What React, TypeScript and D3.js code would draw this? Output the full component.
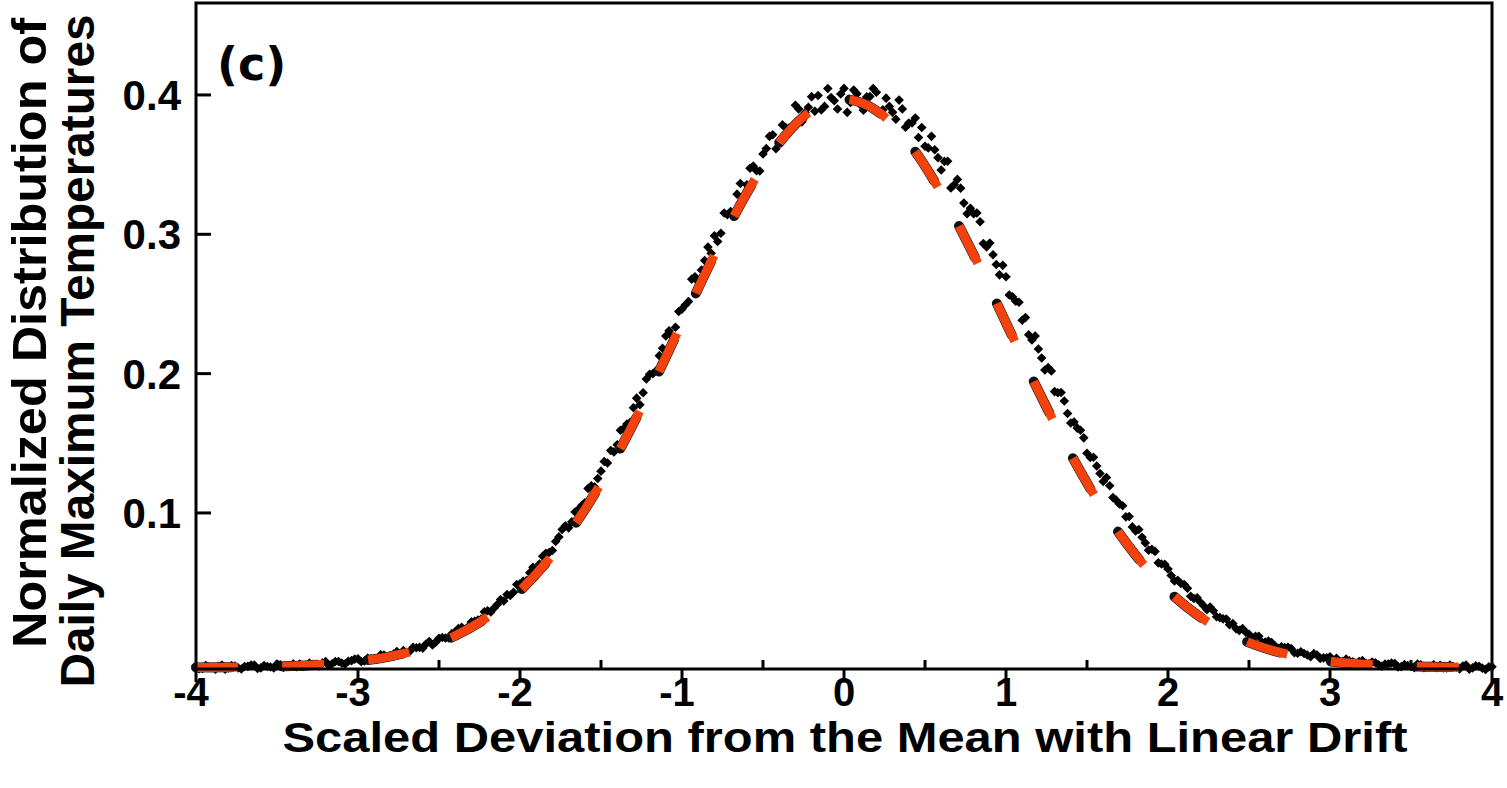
import React from 'react';
import * as d3 from 'd3';

const xTicks = [-4, -3, -2, -1, 0, 1, 2, 3, 4];
const xMinorTicks = [-3.5, -2.5, -1.5, -0.5, 0.5, 1.5, 2.5, 3.5];
const yTicks = [0.1, 0.2, 0.3, 0.4];
const yTickLabels = ['0.1', '0.2', '0.3', '0.4'];
const panelLabel = '(c)';
const xTitle = 'Scaled Deviation from the Mean with Linear Drift';
const yTitle1 = 'Normalized Distribution of';
const yTitle2 = 'Daily Maximum Temperatures';

// Gaussian fit (orange dashed)
const fitX = [-4, -3.8, -3.6, -3.4, -3.2, -3, -2.8, -2.6, -2.4, -2.2, -2, -1.8, -1.6, -1.4, -1.2, -1, -0.8, -0.6, -0.4, -0.2, 0,
  0.2, 0.4, 0.6, 0.8, 1, 1.2, 1.4, 1.6, 1.8, 2, 2.2, 2.4, 2.6, 2.8, 3, 3.2, 3.4, 3.6, 3.8, 4];
const fitY = [-0.0109, -0.0107, -0.0104, -0.0098, -0.0085, -0.0065, -0.0029, 0.0029, 0.0119, 0.0253, 0.0442, 0.0698, 0.1024, 0.1421, 0.1876, 0.2365, 0.2853, 0.3297, 0.3656, 0.3888, 0.3969,
  0.3888, 0.3656, 0.3297, 0.2853, 0.2365, 0.1876, 0.1421, 0.1024, 0.0698, 0.0442, 0.0253, 0.0119, 0.0029, -0.0029, -0.0065, -0.0085, -0.0098, -0.0104, -0.0107, -0.0109];

// Observed distribution (black diamonds), first set of bins
const dataX = [
  -4.00, -3.96, -3.92, -3.88, -3.84, -3.80, -3.76, -3.72, -3.68, -3.64, -3.60, -3.56, -3.52, -3.48, -3.44, -3.40, -3.36, -3.32, -3.28, -3.24,
  -3.20, -3.16, -3.12, -3.08, -3.04, -3.00, -2.96, -2.92, -2.88, -2.84, -2.80, -2.76, -2.72, -2.68, -2.64, -2.60, -2.56, -2.52, -2.48, -2.44,
  -2.40, -2.36, -2.32, -2.28, -2.24, -2.20, -2.16, -2.12, -2.08, -2.04, -2.00, -1.96, -1.92, -1.88, -1.84, -1.80, -1.76, -1.72, -1.68, -1.64,
  -1.60, -1.56, -1.52, -1.48, -1.44, -1.40, -1.36, -1.32, -1.28, -1.24, -1.20, -1.16, -1.12, -1.08, -1.04, -1.00, -0.96, -0.92, -0.88, -0.84,
  -0.80, -0.76, -0.72, -0.68, -0.64, -0.60, -0.56, -0.52, -0.48, -0.44, -0.40, -0.36, -0.32, -0.28, -0.24, -0.20, -0.16, -0.12, -0.08, -0.04,
  0.00, 0.04, 0.08, 0.12, 0.16, 0.20, 0.24, 0.28, 0.32, 0.36, 0.40, 0.44, 0.48, 0.52, 0.56, 0.60, 0.64, 0.68, 0.72, 0.76,
  0.80, 0.84, 0.88, 0.92, 0.96, 1.00, 1.04, 1.08, 1.12, 1.16, 1.20, 1.24, 1.28, 1.32, 1.36, 1.40, 1.44, 1.48, 1.52, 1.56,
  1.60, 1.64, 1.68, 1.72, 1.76, 1.80, 1.84, 1.88, 1.92, 1.96, 2.00, 2.04, 2.08, 2.12, 2.16, 2.20, 2.24, 2.28, 2.32, 2.36,
  2.40, 2.44, 2.48, 2.52, 2.56, 2.60, 2.64, 2.68, 2.72, 2.76, 2.80, 2.84, 2.88, 2.92, 2.96, 3.00, 3.04, 3.08, 3.12, 3.16,
  3.20, 3.24, 3.28, 3.32, 3.36, 3.40, 3.44, 3.48, 3.52, 3.56, 3.60, 3.64, 3.68, 3.72, 3.76, 3.80, 3.84, 3.88, 3.92, 3.96, 4.00];
const dataY = [
  -0.0097, -0.0116, -0.0105, -0.0122, -0.0092, -0.0112, -0.0099, -0.0120, -0.0101, -0.0092, -0.0112, -0.0102, -0.0113, -0.0090, -0.0101, -0.0083, -0.0084, -0.0100, -0.0086, -0.0099,
  -0.0067, -0.0083, -0.0066, -0.0085, -0.0060, -0.0047, -0.0062, -0.0046, -0.0049, -0.0020, -0.0023, 0.0005, 0.0013, 0.0007, 0.0032, 0.0030, 0.0077, 0.0073, 0.0106, 0.0102,
  0.0147, 0.0180, 0.0183, 0.0222, 0.0238, 0.0298, 0.0318, 0.0378, 0.0414, 0.0431, 0.0492, 0.0514, 0.0610, 0.0634, 0.0711, 0.0730, 0.0828, 0.0908, 0.0936, 0.1024,
  0.1073, 0.1195, 0.1247, 0.1369, 0.1448, 0.1489, 0.1605, 0.1650, 0.1824, 0.1863, 0.1996, 0.2021, 0.2182, 0.2307, 0.2333, 0.2463, 0.2517, 0.2695, 0.2744, 0.2908,
  0.2990, 0.3007, 0.3141, 0.3155, 0.3365, 0.3356, 0.3489, 0.3454, 0.3615, 0.3714, 0.3670, 0.3766, 0.3752, 0.3900, 0.3873, 0.3988, 0.3996, 0.3918, 0.3982, 0.3899,
  0.4047, 0.3946, 0.4008, 0.3891, 0.3989, 0.4019, 0.3894, 0.3918, 0.3826, 0.3900, 0.3798, 0.3834, 0.3766, 0.3620, 0.3607, 0.3461, 0.3524, 0.3356, 0.3331, 0.3148,
  0.3148, 0.3090, 0.2910, 0.2853, 0.2709, 0.2695, 0.2551, 0.2512, 0.2402, 0.2241, 0.2177, 0.2026, 0.2019, 0.1863, 0.1803, 0.1646, 0.1609, 0.1539, 0.1398, 0.1337,
  0.1226, 0.1195, 0.1092, 0.1052, 0.0975, 0.0870, 0.0826, 0.0733, 0.0724, 0.0634, 0.0598, 0.0512, 0.0494, 0.0460, 0.0386, 0.0359, 0.0306, 0.0298, 0.0249, 0.0239,
  0.0207, 0.0157, 0.0145, 0.0104, 0.0115, 0.0073, 0.0069, 0.0028, 0.0034, 0.0027, -0.0007, -0.0009, -0.0032, -0.0020, -0.0040, -0.0032, -0.0043, -0.0067, -0.0062, -0.0084,
  -0.0059, -0.0083, -0.0075, -0.0100, -0.0085, -0.0080, -0.0103, -0.0096, -0.0110, -0.0090, -0.0104, -0.0089, -0.0093, -0.0112, -0.0102, -0.0119, -0.0091, -0.0112, -0.0100, -0.0123, -0.0104];

// Observed distribution (black diamonds), interleaved second set of bins
const data2X = [
  -3.98, -3.94, -3.90, -3.86, -3.82, -3.78, -3.74, -3.70, -3.66, -3.62, -3.58, -3.54, -3.50, -3.46, -3.42, -3.38, -3.34, -3.30, -3.26, -3.22,
  -3.18, -3.14, -3.10, -3.06, -3.02, -2.98, -2.94, -2.90, -2.86, -2.82, -2.78, -2.74, -2.70, -2.66, -2.62, -2.58, -2.54, -2.50, -2.46, -2.42,
  -2.38, -2.34, -2.30, -2.26, -2.22, -2.18, -2.14, -2.10, -2.06, -2.02, -1.98, -1.94, -1.90, -1.86, -1.82, -1.78, -1.74, -1.70, -1.66, -1.62,
  -1.58, -1.54, -1.50, -1.46, -1.42, -1.38, -1.34, -1.30, -1.26, -1.22, -1.18, -1.14, -1.10, -1.06, -1.02, -0.98, -0.94, -0.90, -0.86, -0.82,
  -0.78, -0.74, -0.70, -0.66, -0.62, -0.58, -0.54, -0.50, -0.46, -0.42, -0.38, -0.34, -0.30, -0.26, -0.22, -0.18, -0.14, -0.10, -0.06, -0.02,
  0.02, 0.06, 0.10, 0.14, 0.18, 0.22, 0.26, 0.30, 0.34, 0.38, 0.42, 0.46, 0.50, 0.54, 0.58, 0.62, 0.66, 0.70, 0.74, 0.78,
  0.82, 0.86, 0.90, 0.94, 0.98, 1.02, 1.06, 1.10, 1.14, 1.18, 1.22, 1.26, 1.30, 1.34, 1.38, 1.42, 1.46, 1.50, 1.54, 1.58,
  1.62, 1.66, 1.70, 1.74, 1.78, 1.82, 1.86, 1.90, 1.94, 1.98, 2.02, 2.06, 2.10, 2.14, 2.18, 2.22, 2.26, 2.30, 2.34, 2.38,
  2.42, 2.46, 2.50, 2.54, 2.58, 2.62, 2.66, 2.70, 2.74, 2.78, 2.82, 2.86, 2.90, 2.94, 2.98, 3.02, 3.06, 3.10, 3.14, 3.18,
  3.22, 3.26, 3.30, 3.34, 3.38, 3.42, 3.46, 3.50, 3.54, 3.58, 3.62, 3.66, 3.70, 3.74, 3.78, 3.82, 3.86, 3.90, 3.94, 3.98];
const data2Y = [
  -0.0117, -0.0095, -0.0110, -0.0101, -0.0122, -0.0096, -0.0112, -0.0102, -0.0091, -0.0116, -0.0095, -0.0106, -0.0085, -0.0109, -0.0095, -0.0103, -0.0102, -0.0077, -0.0089, -0.0077,
  -0.0095, -0.0066, -0.0078, -0.0064, -0.0049, -0.0068, -0.0042, -0.0046, -0.0018, -0.0035, -0.0013, -0.0011, -0.0001, 0.0036, 0.0035, 0.0059, 0.0053, 0.0100, 0.0102, 0.0134,
  0.0170, 0.0165, 0.0218, 0.0232, 0.0290, 0.0289, 0.0343, 0.0368, 0.0407, 0.0486, 0.0509, 0.0571, 0.0587, 0.0689, 0.0716, 0.0795, 0.0881, 0.0893, 0.1007, 0.1051,
  0.1175, 0.1187, 0.1300, 0.1358, 0.1438, 0.1594, 0.1638, 0.1755, 0.1777, 0.1961, 0.1999, 0.2129, 0.2270, 0.2267, 0.2446, 0.2493, 0.2678, 0.2660, 0.2812, 0.2864,
  0.2948, 0.3153, 0.3163, 0.3288, 0.3255, 0.3474, 0.3456, 0.3576, 0.3703, 0.3614, 0.3785, 0.3762, 0.3926, 0.3807, 0.3912, 0.3883, 0.3893, 0.4046, 0.3958, 0.4007,
  0.3875, 0.4035, 0.3931, 0.3986, 0.4046, 0.3874, 0.3977, 0.3875, 0.3963, 0.3769, 0.3799, 0.3695, 0.3632, 0.3703, 0.3550, 0.3523, 0.3333, 0.3394, 0.3224, 0.3187,
  0.3153, 0.2933, 0.2937, 0.2783, 0.2777, 0.2564, 0.2519, 0.2383, 0.2279, 0.2270, 0.2112, 0.2043, 0.1871, 0.1865, 0.1714, 0.1652, 0.1594, 0.1429, 0.1400, 0.1283,
  0.1254, 0.1110, 0.1065, 0.0972, 0.0900, 0.0881, 0.0785, 0.0740, 0.0642, 0.0632, 0.0551, 0.0517, 0.0486, 0.0402, 0.0391, 0.0334, 0.0325, 0.0255, 0.0240, 0.0198,
  0.0169, 0.0170, 0.0129, 0.0115, 0.0071, 0.0081, 0.0046, 0.0040, 0.0036, -0.0003, 0.0004, -0.0019, -0.0010, -0.0044, -0.0040, -0.0057, -0.0065, -0.0049, -0.0069, -0.0066,
  -0.0091, -0.0070, -0.0089, -0.0084, -0.0077, -0.0105, -0.0088, -0.0102, -0.0084, -0.0111, -0.0100, -0.0110, -0.0113, -0.0091, -0.0107, -0.0099, -0.0122, -0.0097, -0.0114, -0.0105];

const W = 1507;
const H = 788;
const ORANGE = '#F4420F';
const NUM_FONT = '"Liberation Sans", Arial, sans-serif';

export default function App() {
  const x = d3.scaleLinear().domain([-4, 4]).range([196, 1492]);
  const y = d3.scaleLinear().domain([-0.012, 0.466]).range([669, 3]);

  const fitPts: [number, number][] = fitX.map((v, i) => [v, fitY[i]]);
  const line = d3.line<[number, number]>()
    .x(d => x(d[0]))
    .y(d => y(d[1]))
    .curve(d3.curveMonotoneX);
  const fitPath = line(fitPts) || '';

  const diamond = 'M0,-4.8L4.8,0L0,4.8L-4.8,0Z';
  const [y0, y1] = y.range();
  const [x0, x1] = x.range();

  const points: [number, number][] = [
    ...dataX.map((v, i) => [v, dataY[i]] as [number, number]),
    ...data2X.map((v, i) => [v, data2Y[i]] as [number, number]),
  ];

  return (
    <svg width={W} height={H} style={{ position: 'absolute', left: 0, top: 0, background: '#fff' }}>
      <rect x={0} y={0} width={W} height={H} fill="#fff" />
      {/* diamonds */}
      <g fill="#000">
        {points.map((p, i) => (
          <path key={i} d={diamond} transform={`translate(${x(p[0])},${y(p[1])})`} />
        ))}
      </g>
      {/* black underlay of the fit */}
      <path d={fitPath} fill="none" stroke="#111" strokeWidth={10} strokeDasharray="35 51.2" strokeLinecap="round" />
      {/* orange fit */}
      <path d={fitPath} fill="none" stroke={ORANGE} strokeWidth={9} strokeDasharray="42 44.2" strokeLinecap="butt" />

      {/* frame */}
      <rect x={x0} y={y1} width={x1 - x0} height={y0 - y1} fill="none" stroke="#000" strokeWidth={3} />

      {/* x ticks */}
      {xTicks.map(t => (
        <line key={'xt' + t} x1={x(t)} x2={x(t)} y1={y0} y2={y0 + 13} stroke="#000" strokeWidth={3} />
      ))}
      {xMinorTicks.map(t => (
        <line key={'xm' + t} x1={x(t)} x2={x(t)} y1={y0} y2={y0 - 9} stroke="#000" strokeWidth={3} />
      ))}
      {xTicks.map(t => (
        <text key={'xl' + t} x={x(t) + (t < 0 ? -5 : 0)} y={706} textAnchor="middle"
          fontFamily={NUM_FONT} fontWeight="bold" fontSize={40} fill="#000">{String(t)}</text>
      ))}

      {/* y ticks */}
      {yTicks.map((t, i) => (
        <g key={'yt' + t}>
          <line x1={x0} x2={x0 + 15} y1={y(t)} y2={y(t)} stroke="#000" strokeWidth={3} />
          <text x={181} y={y(t) + 15} textAnchor="end" fontFamily={NUM_FONT} fontWeight="bold" fontSize={42} fill="#000">{yTickLabels[i]}</text>
        </g>
      ))}

      {/* panel label */}
      <text x={217} y={80} fontFamily='"DejaVu Sans", sans-serif' fontWeight="bold" fontSize={46} fill="#000">{panelLabel}</text>

      {/* x title */}
      <text x={845} y={752} textAnchor="middle" fontFamily={NUM_FONT} fontWeight="bold" fontSize={42}
        textLength={1125} lengthAdjust="spacingAndGlyphs" fill="#000">{xTitle}</text>

      {/* y title */}
      <text transform="translate(46,333) rotate(-90)" textAnchor="middle" fontFamily='"Liberation Sans Narrow", "Liberation Sans", sans-serif'
        fontWeight="bold" fontSize={48} textLength={630} lengthAdjust="spacingAndGlyphs" fill="#000">{yTitle1}</text>
      <text transform="translate(94,351) rotate(-90)" textAnchor="middle" fontFamily='"Liberation Sans Narrow", "Liberation Sans", sans-serif'
        fontWeight="bold" fontSize={48} textLength={673} lengthAdjust="spacingAndGlyphs" fill="#000">{yTitle2}</text>
    </svg>
  );
}
